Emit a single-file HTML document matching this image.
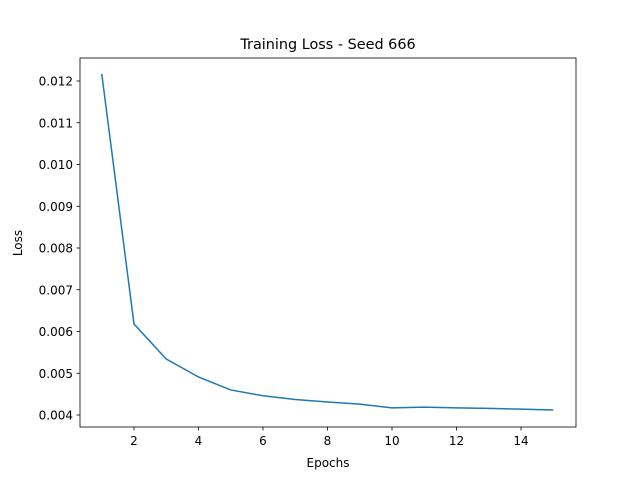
<!DOCTYPE html>
<html><head><meta charset="utf-8"><style>
body{margin:0;background:#fff;}
svg text{font-family:"DejaVu Sans","Liberation Sans",sans-serif;fill:#000;}
</style></head><body>
<svg id="chart" width="640" height="480">
<rect width="640" height="480" fill="#fff"/>
<text x="328" y="49" font-size="14.4" text-anchor="middle">Training Loss - Seed 666</text>
<text x="328" y="467" font-size="12" text-anchor="middle">Epochs</text>
<text x="22" y="243" font-size="12" text-anchor="middle" transform="rotate(-90 22 243)">Loss</text>
<g id="ticks"></g>
<polyline id="line" fill="none" stroke="#1f77b4" stroke-width="1.5"/>
<rect x="80" y="58" width="496" height="369" fill="none" stroke="#000" stroke-width="0.8"/>
</svg>
<script>
const epochs=[1,2,3,4,5,6,7,8,9,10,11,12,13,14,15];
const losses=[0.01217,0.00618,0.00534,0.00491,0.0046,0.00446,0.00437,0.00431,0.00426,0.00417,0.00419,0.00417,0.00416,0.00414,0.00412];
const xTicks=[2,4,6,8,10,12,14];
const yTicks=[0.004,0.005,0.006,0.007,0.008,0.009,0.010,0.011,0.012];
const X=v=>134+(v-2)*32.25;
const Y=v=>415-(v-0.004)*41750;
const ns="http://www.w3.org/2000/svg";
const g=document.getElementById('ticks');
function mk(t,a){const e=document.createElementNS(ns,t);for(const k in a)e.setAttribute(k,a[k]);return e;}
xTicks.forEach(v=>{
 const l=mk('line',{x1:X(v),x2:X(v),y1:427,y2:430.5,stroke:'#000','stroke-width':0.8});
 
 
 g.appendChild(l);
 const t=mk('text',{x:X(v),y:445,'font-size':12,'text-anchor':'middle'});t.textContent=v;
 
 
 g.appendChild(t);
});
yTicks.forEach(v=>{
 const l=mk('line',{x1:76.5,x2:80,y1:Y(v),y2:Y(v),stroke:'#000','stroke-width':0.8});
 
 
 g.appendChild(l);
 const t=mk('text',{x:73,y:Y(v)+4.5,'font-size':12,'text-anchor':'end'});t.textContent=v.toFixed(3);
 
 
 g.appendChild(t);
});
document.getElementById('line').setAttribute('points',epochs.map((e,i)=>X(e)+','+Y(losses[i])).join(' '));
</script>
</body></html>
